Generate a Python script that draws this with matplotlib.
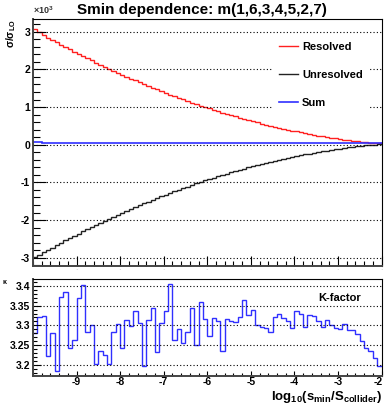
import numpy as np
import matplotlib
matplotlib.use("Agg")
import matplotlib.pyplot as plt
import matplotlib.transforms as mtransforms
from matplotlib.ticker import MultipleLocator

plt.rcParams["font.family"] = ["Liberation Sans", "DejaVu Sans"]
plt.rcParams["axes.unicode_minus"] = False
plt.rcParams["mathtext.fontset"] = "custom"
plt.rcParams["mathtext.rm"] = "Liberation Sans:bold"
plt.rcParams["mathtext.it"] = "Liberation Sans:bold"
plt.rcParams["mathtext.bf"] = "Liberation Sans:bold"

# binning: 80 bins in log10(smin/S) from -10 to -2
x_lo, x_hi, n_bins = -10.0, -2.0, 80

# sigma/sigma_LO in units of 10^3
resolved = [3.060, 2.985, 2.915, 2.845, 2.780, 2.717, 2.654, 2.593, 2.532, 2.472,
            2.413, 2.354, 2.296, 2.239, 2.182, 2.126, 2.071, 2.017, 1.963, 1.910,
            1.858, 1.806, 1.756, 1.705, 1.656, 1.607, 1.559, 1.512, 1.466, 1.420,
            1.375, 1.330, 1.286, 1.243, 1.201, 1.160, 1.119, 1.078, 1.039, 1.000,
            0.962, 0.925, 0.888, 0.853, 0.817, 0.783, 0.749, 0.716, 0.684, 0.652,
            0.621, 0.591, 0.562, 0.533, 0.505, 0.477, 0.451, 0.425, 0.400, 0.375,
            0.351, 0.328, 0.306, 0.284, 0.263, 0.243, 0.224, 0.205, 0.187, 0.169,
            0.153, 0.137, 0.122, 0.107, 0.093, 0.080, 0.068, 0.056, 0.045, 0.035]
unresolved = [-2.988, -2.923, -2.858, -2.793, -2.730, -2.667, -2.604, -2.543, -2.482, -2.422,
              -2.363, -2.304, -2.246, -2.189, -2.132, -2.076, -2.021, -1.967, -1.913, -1.860,
              -1.808, -1.756, -1.706, -1.655, -1.606, -1.557, -1.509, -1.462, -1.416, -1.370,
              -1.325, -1.280, -1.236, -1.193, -1.151, -1.110, -1.069, -1.028, -0.989, -0.950,
              -0.912, -0.875, -0.838, -0.803, -0.767, -0.733, -0.699, -0.666, -0.634, -0.602,
              -0.571, -0.541, -0.512, -0.483, -0.455, -0.427, -0.401, -0.375, -0.350, -0.325,
              -0.301, -0.278, -0.256, -0.234, -0.213, -0.193, -0.174, -0.155, -0.137, -0.119,
              -0.103, -0.087, -0.072, -0.057, -0.043, -0.030, -0.018, -0.006, 0.005, 0.015]

kfactor = [3.280, 3.320, 3.323, 3.221, 3.280, 3.184, 3.373, 3.386, 3.242, 3.262,
           3.369, 3.403, 3.283, 3.300, 3.203, 3.234, 3.224, 3.201, 3.282, 3.303,
           3.243, 3.313, 3.299, 3.337, 3.305, 3.196, 3.313, 3.343, 3.233, 3.305,
           3.336, 3.406, 3.264, 3.290, 3.256, 3.283, 3.343, 3.251, 3.360, 3.315,
           3.273, 3.319, 3.310, 3.236, 3.315, 3.310, 3.308, 3.320, 3.365, 3.327,
           3.338, 3.300, 3.295, 3.293, 3.283, 3.321, 3.330, 3.319, 3.312, 3.293,
           3.336, 3.329, 3.297, 3.327, 3.323, 3.310, 3.297, 3.314, 3.302, 3.293,
           3.292, 3.303, 3.289, 3.288, 3.278, 3.261, 3.242, 3.234, 3.217, 3.196]

x_ticks = [-9, -8, -7, -6, -5, -4, -3, -2]
x_ticklabels = ["-9", "-8", "-7", "-6", "-5", "-4", "-3", "-2"]

edges = np.linspace(x_lo, x_hi, n_bins + 1)
total = np.array(resolved) + np.array(unresolved)

W, H = 384, 407
fig = plt.figure(figsize=(W / 100, H / 100), dpi=100)


def px_axes(l, t, r, b):
    return fig.add_axes([l / W, 1 - b / H, (r - l) / W, (b - t) / H])


def style(ax, ymaj, ymin, ylen, xlen):
    for s in ["top", "right"]:
        ax.spines[s].set_color("black")
        ax.spines[s].set_linewidth(0.8)
    for s in ["left", "bottom"]:
        ax.spines[s].set_color("#444444")
        ax.spines[s].set_linewidth(1.4)
    ax.xaxis.set_minor_locator(MultipleLocator(0.2))
    ax.yaxis.set_minor_locator(MultipleLocator(ymin))
    ax.set_xticks(x_ticks)
    ax.tick_params(axis="y", which="major", direction="in", length=ylen[0], width=0.8,
                   labelsize=7.5, pad=2)
    ax.tick_params(axis="y", which="minor", direction="in", length=ylen[1], width=0.8)
    ax.tick_params(axis="x", which="major", direction="in", length=xlen[0], width=0.8)
    ax.tick_params(axis="x", which="minor", direction="in", length=xlen[1], width=0.8)
    ax.grid(True, axis="y", which="major", linestyle=(0, (1, 2)), color="black", linewidth=0.8)
    ax.set_xlim(x_lo, x_hi)


# top panel
ax = px_axes(33, 19, 381.5, 266)
ax.stairs(resolved, edges, baseline=None, color="#ff2020", linewidth=1.0, label="Resolved")
ax.stairs(unresolved, edges, baseline=None, color="#222222", linewidth=1.0, label="Unresolved")
ax.stairs(total, edges, baseline=None, color="#3030ff", linewidth=1.2, label="Sum")
ax.set_ylim(-3.22, 3.337)
style(ax, 1, 0.2, (9, 5), (7, 3.5))
ax.set_yticks([-3, -2, -1, 0, 1, 2, 3])
ax.set_yticklabels(["-3", "-2", "-1", "0", "1", "2", "3"], fontweight="bold")
ax.set_xticklabels(x_ticklabels)
ax.tick_params(axis="x", which="major", labelsize=1.5, labelcolor="#aaaaaa", pad=2)
leg = ax.legend(loc="upper left", bbox_to_anchor=(0.67, 0.955), frameon=True,
                facecolor="white", edgecolor="none", framealpha=1.0, fancybox=False,
                prop={"weight": "bold", "size": 8}, handlelength=1.7, handletextpad=0.4,
                labelspacing=1.6, borderpad=0.6)
leg.set_zorder(5)
ax.text(-0.042, 1.0, r"$\sigma/\sigma_{LO}$", transform=ax.transAxes, rotation=90,
        ha="right", va="top", fontsize=7.5, family="DejaVu Sans")
ax.text(0.0, 1.012, r"$\times10^{3}$", transform=ax.transAxes, ha="left", va="bottom",
        fontsize=6.5, color="#333333", family="DejaVu Sans")

# bottom panel
ax2 = px_axes(33, 279, 381.5, 376)
ax2.stairs(kfactor, edges, baseline=None, color="#3030ff", linewidth=1.0)
ax2.set_ylim(3.1713, 3.4178)
style(ax2, 0.05, 0.01, (6, 3), (3.5, 2))
ax2.set_yticks([3.2, 3.25, 3.3, 3.35, 3.4])
ax2.set_yticklabels(["3.2", "3.25", "3.3", "3.35", "3.4"], fontweight="bold")
ax2.set_xticklabels(x_ticklabels, fontweight="bold")
ax2.tick_params(axis="x", which="major", labelsize=7.5, pad=1)
# keep the last tick label inside the canvas
last = ax2.get_xticklabels()[-1]
last.set_transform(last.get_transform() +
                   mtransforms.ScaledTranslation(-3 / 100, 0, fig.dpi_scale_trans))
ax2.text(0.94, 0.80, "K-factor", transform=ax2.transAxes, ha="right", va="center",
         fontsize=8, fontweight="bold")
ax2.text(-0.08, 0.97, r"$\kappa$", transform=ax2.transAxes, ha="center", va="center",
         fontsize=5, family="DejaVu Sans")

fig.text(202 / W, 1 - 14 / H, "Smin dependence: m(1,6,3,4,5,2,7)", ha="center",
         va="baseline", fontsize=11, fontweight="bold")
fig.text(382 / W, 1 - 400 / H, r"$\mathrm{log_{10}(s_{min}/S_{collider})}$", ha="right",
         va="baseline", fontsize=9.5)

fig.savefig("out.png", dpi=100)
